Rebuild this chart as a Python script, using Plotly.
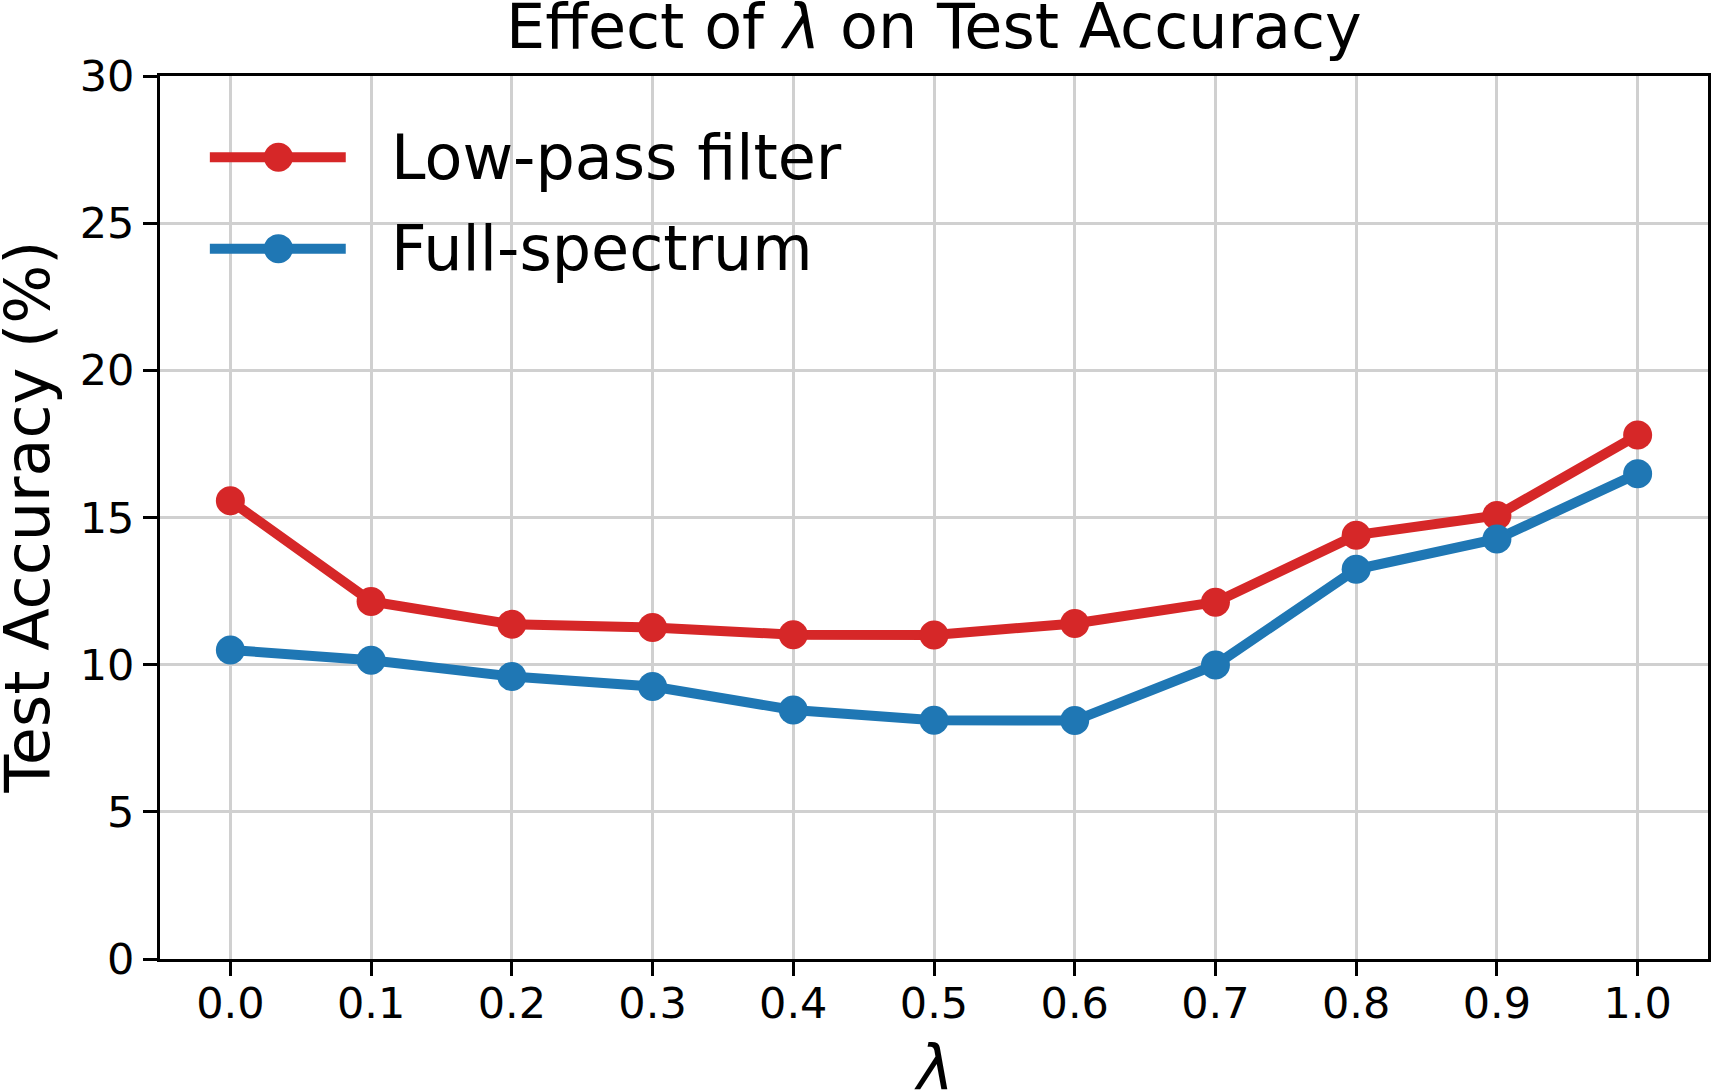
import plotly.graph_objects as go

lambdas = [0.0, 0.1, 0.2, 0.3, 0.4, 0.5, 0.6, 0.7, 0.8, 0.9, 1.0]
low_pass = [15.57, 12.15, 11.37, 11.26, 11.02, 11.01, 11.40, 12.12, 14.40, 15.07, 17.80]
full_spectrum = [10.50, 10.15, 9.60, 9.26, 8.46, 8.11, 8.10, 9.99, 13.24, 14.27, 16.49]
x_ticks = [0.0, 0.1, 0.2, 0.3, 0.4, 0.5, 0.6, 0.7, 0.8, 0.9, 1.0]
x_tick_labels = ["0.0", "0.1", "0.2", "0.3", "0.4", "0.5", "0.6", "0.7", "0.8", "0.9", "1.0"]
y_ticks = [0, 5, 10, 15, 20, 25, 30]
series_names = ["Low-pass filter", "Full-spectrum"]

RED = "#d62728"
BLUE = "#1f77b4"
FONT = "DejaVu Sans"

fig = go.Figure()
for name, vals, col in [(series_names[0], low_pass, RED), (series_names[1], full_spectrum, BLUE)]:
    fig.add_trace(go.Scatter(
        x=lambdas, y=vals, name=name, mode="lines+markers",
        line=dict(color=col, width=10),
        marker=dict(color=col, size=29),
        showlegend=False,
    ))

fig.update_layout(
    width=1713, height=1091,
    margin=dict(l=160, r=2, t=76, b=132),
    paper_bgcolor="white", plot_bgcolor="white",
    font=dict(family=FONT, color="black"),
)
axis_common = dict(
    showline=True, linecolor="black", linewidth=3, mirror=True,
    ticks="outside", ticklen=14, tickwidth=3, tickcolor="black",
    showgrid=True, gridcolor="#d0d0d0", gridwidth=2.5,
    zeroline=False,
    tickfont=dict(family=FONT, size=43, color="black"),
)
fig.update_xaxes(range=[-0.05, 1.05], tickvals=x_ticks, ticktext=x_tick_labels,
                 ticklabelstandoff=-10, **axis_common)
fig.update_yaxes(range=[0, 30], tickvals=y_ticks, **axis_common)

# Title and axis labels
fig.add_annotation(text="Effect of <i>λ</i> on Test Accuracy", x=0.5, y=1, xref="paper", yref="paper",
                   xanchor="center", yanchor="middle", yshift=50, showarrow=False,
                   font=dict(family=FONT, size=62, color="black"))
fig.add_annotation(text="<i>λ</i>", x=0.5, y=0, xref="paper", yref="paper",
                   xanchor="center", yanchor="middle", yshift=-108, showarrow=False,
                   font=dict(family=FONT, size=62, color="black"))
fig.add_annotation(text="Test Accuracy (%)", x=0, y=0.5, xref="paper", yref="paper",
                   xanchor="center", yanchor="middle", xshift=-133, textangle=-90, showarrow=False,
                   font=dict(family=FONT, size=62, color="black"))

# Legend (drawn manually to match long line samples)
leg_rows = [(series_names[0], RED, 0.908), (series_names[1], BLUE, 0.8045)]
for name, col, ly in leg_rows:
    fig.add_shape(type="line", xref="paper", yref="paper", x0=0.0322, x1=0.1200, y0=ly, y1=ly,
                  line=dict(color=col, width=10))
    fig.add_shape(type="circle", xref="paper", yref="paper", xsizemode="pixel", ysizemode="pixel",
                  xanchor=0.0765, yanchor=ly, x0=-14.5, x1=14.5, y0=-14.5, y1=14.5,
                  fillcolor=col, line=dict(color=col, width=0))
    fig.add_annotation(text=name, x=0.1481, y=ly, xref="paper", yref="paper",
                       xanchor="left", yanchor="middle", showarrow=False,
                       font=dict(family=FONT, size=62, color="black"))

fig.write_html("out.html")
